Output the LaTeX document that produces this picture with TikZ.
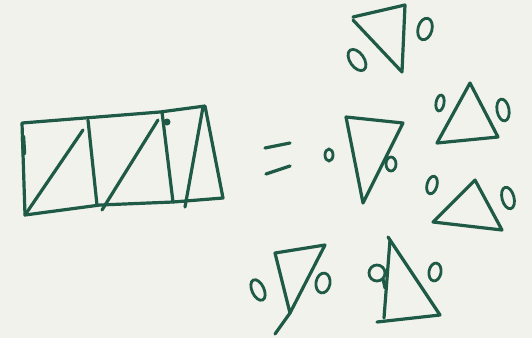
\documentclass[tikz,border=0pt]{standalone}
\usepackage{tikz}
\usetikzlibrary{arrows.meta,positioning,calc}
\definecolor{paper}{RGB}{242,242,237}
\definecolor{inkgreen}{RGB}{30,90,70}

\begin{document}
\begin{tikzpicture}[x=1pt,y=-1pt,
  ink/.style={draw=inkgreen,line width=3.2pt,line cap=round,line join=round},
  ring/.style={draw=inkgreen,line width=2.8pt}]

 \fill[paper] (0,0) rectangle (532,338);

 % the strip of triangles
 \draw[ink] (22,123) -- (160,112) -- (205,106) -- (223,198) -- (173,202) -- (100,205) -- (25,215) -- cycle;
 \draw[ink,line width=4.5pt] (23,137) -- (24,153);
 \draw[ink] (25,215) -- (83,130);
 \draw[ink] (88,120) -- (97,205);
 \draw[ink] (102,210) -- (158,120);
 \draw[ink] (162,112) -- (173,202);
 \fill[inkgreen] (167,122) circle (3.5);
 \draw[ink] (185,207) -- (203,107);

 % equals sign
 \draw[ink] (265,148) -- (290,143);
 \draw[ink] (266,174) -- (290,166);

 % centre triangle
 \draw[ink] (346,117) -- (403,123) -- (363,203) -- cycle;
 \draw[ring] (329,155) ellipse [x radius=4, y radius=6];
 \draw[ring] (391,164) ellipse [x radius=5, y radius=7];

 % top triangle
 \draw[ink] (353,17) -- (405,5) -- (402,72) -- (353,20);
 \draw[ring,rotate around={35:(357,60)}] (357,60) ellipse [x radius=7, y radius=12];
 \draw[ring,rotate around={-15:(425,29)}] (425,29) ellipse [x radius=7, y radius=11];

 % upper right triangle
 \draw[ink] (470,83) -- (498,137) -- (437,143) -- cycle;
 \draw[ring,rotate around={-10:(440,103)}] (440,103) ellipse [x radius=4, y radius=8];
 \draw[ring,rotate around={10:(503,110)}] (503,110) ellipse [x radius=6, y radius=11];

 % lower right triangle
 \draw[ink] (475,180) -- (502,230) -- (433,222) -- cycle;
 \draw[ring,rotate around={-15:(432,185)}] (432,185) ellipse [x radius=5, y radius=9];
 \draw[ring,rotate around={15:(508,198)}] (508,198) ellipse [x radius=6, y radius=11];

 % bottom left triangle
 \draw[ink] (275,253) -- (325,245) -- (290,313) -- cycle;
 \draw[ink] (290,313) -- (275,334);
 \draw[ring,rotate around={25:(258,290)}] (258,290) ellipse [x radius=6, y radius=11];
 \draw[ring,rotate around={-10:(323,283)}] (323,283) ellipse [x radius=7, y radius=10];

 % bottom middle triangle
 \draw[ink] (388,237) -- (440,315) -- (377,322);
 \draw[ink] (390,240) -- (384,318);
 \draw[ring] (377,273) ellipse [x radius=8, y radius=8];
 \draw[ink] (383,279) -- (385,288);
 \draw[ring,rotate around={-10:(435,272)}] (435,272) ellipse [x radius=6, y radius=9];
\end{tikzpicture}
\end{document}
